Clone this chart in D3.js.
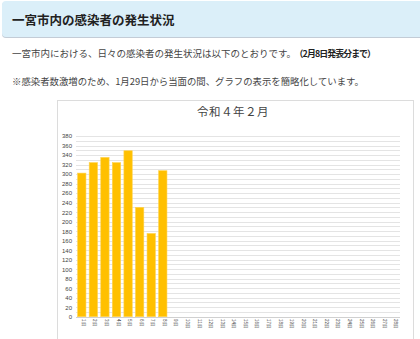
<!DOCTYPE html>
<html><head><meta charset="utf-8">
<script src="https://cdn.jsdelivr.net/npm/d3@7"></script>
<style>
html,body{margin:0;padding:0;background:#fff;}
svg{display:block;font-family:"Noto Sans CJK JP","Noto Sans",sans-serif;}
</style></head>
<body>
<svg id="c" width="420" height="339"></svg>
<script>
const days = d3.range(1, 29).map(d => d + "日");
const cases = [302, 324, 335, 324, 349, 230, 175, 307];
const yTicks = d3.range(0, 381, 20);
const gridValues = d3.range(0, 381, 10);
const pageTitle = "一宮市内の感染者の発生状況";
const line1a = "一宮市内における、日々の感染者の発生状況は以下のとおりです。";
const line1b = "（2月8日発表分まで）";
const line2 = "※感染者数激増のため、1月29日から当面の間、グラフの表示を簡略化しています。";
const chartTitle = "令和４年２月";

const svg = d3.select("#c");

// header
svg.append("rect").attr("x", 2).attr("y", 2).attr("width", 430).attr("height", 36)
  .attr("rx", 4).attr("fill", "#c3ccd6");
svg.append("rect").attr("x", 2).attr("y", 1).attr("width", 430).attr("height", 36)
  .attr("rx", 4).attr("fill", "#dbeff9");
svg.append("text").attr("x", 12).attr("y", 24.5).attr("font-size", 12.5).attr("font-weight", "bold")
  .attr("fill", "#222").text(pageTitle);

const t1 = svg.append("text").attr("x", 12).attr("y", 57).attr("font-size", 9.5).attr("fill", "#444");
t1.append("tspan").text(line1a);
t1.append("tspan").attr("dx", 3).attr("font-size", 8.9).attr("letter-spacing", -0.9)
  .attr("font-weight", "bold").attr("fill", "#222").text(line1b);
svg.append("text").attr("x", 12).attr("y", 85).attr("font-size", 9.4).attr("fill", "#444").text(line2);

// chart frame
svg.append("rect").attr("x", 57.5).attr("y", 100.5).attr("width", 356).attr("height", 260)
  .attr("fill", "#fff").attr("stroke", "#dcdcdc");
svg.append("text").attr("x", 233).attr("y", 116).attr("text-anchor", "middle")
  .attr("font-size", 11.5).attr("fill", "#444").attr("letter-spacing", 0.5).text(chartTitle);

const x = d3.scaleBand().domain(days).range([76, 400]).paddingInner(0.28).paddingOuter(0.14);
const y = d3.scaleLinear().domain([0, 380]).range([316.7, 136]);

svg.append("g").selectAll("line").data(gridValues).join("line")
  .attr("x1", 76).attr("x2", 400)
  .attr("y1", d => Math.round(y(d)) + 0.5).attr("y2", d => Math.round(y(d)) + 0.5)
  .attr("stroke", d => d === 0 ? "#d0d0d0" : "#e4e4e4").attr("stroke-width", 1);

const yAxis = d3.axisLeft(y).tickValues(yTicks).tickSize(0).tickPadding(4);
const ga = svg.append("g").attr("transform", "translate(76,0)").call(yAxis);
ga.select(".domain").remove();
ga.selectAll("text").attr("font-size", 6).attr("fill", "#444")
  .attr("font-family", '"Liberation Sans",sans-serif');

svg.append("g").selectAll("rect").data(cases).join("rect")
  .attr("x", (d, i) => x(days[i])).attr("width", x.bandwidth())
  .attr("y", d => y(d)).attr("height", d => y(0) - y(d))
  .attr("fill", "#ffc000").attr("stroke", "#ffd24d").attr("stroke-width", 0.6);

const xAxis = d3.axisBottom(x).tickSize(0).tickPadding(0);
const gx = svg.append("g").attr("transform", "translate(0,319)").call(xAxis);
gx.select(".domain").remove();
gx.selectAll("text").attr("font-size", 4.5).attr("fill", "#444")
  .attr("text-anchor", "start").attr("dy", null)
  .attr("transform", "rotate(90) translate(0,-1.5)")
  .attr("dominant-baseline", "central");
</script>
</body></html>
